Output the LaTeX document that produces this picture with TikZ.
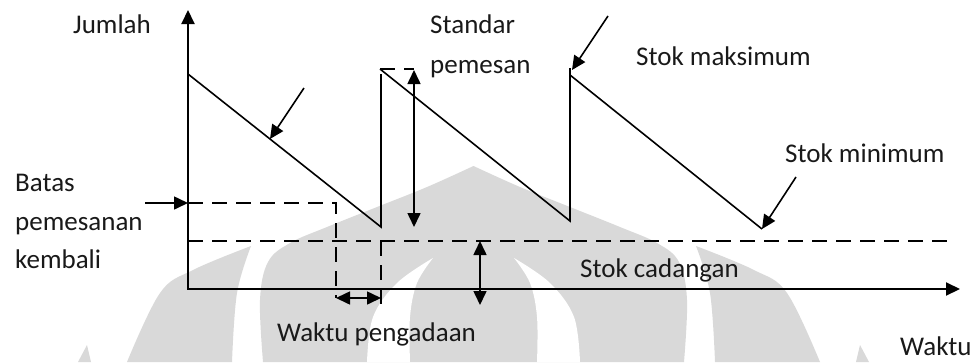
\documentclass[tikz,border=0pt]{standalone}
\usepackage{fontspec}
\setmainfont{Carlito}
\usetikzlibrary{arrows.meta}
\begin{document}
\begin{tikzpicture}[x=1pt,y=-1pt,
  font=\fontsize{27}{32}\selectfont,
  tip/.tip={Triangle[length=14pt,width=13pt]},
  axis/.style={line width=2pt,{Triangle[length=14pt,width=13pt]}-{Triangle[length=14pt,width=13pt]}},
  saw/.style={line width=1.6pt},
  guide/.style={line width=1.6pt,dash pattern=on 15pt off 9pt},
  pointer/.style={line width=1.6pt,-tip},
  span/.style={line width=1.6pt,tip-tip},
  lbl/.style={anchor=base west,inner sep=0pt,text=black!90},
  wm/.style={fill=black!15,draw=none}]
\useasboundingbox (0,0) rectangle (974,362);
\clip (0,0) rectangle (974,362);

% background emblem
\fill[wm] plot[smooth,tension=0.6] coordinates {(263,362) (260,300) (268,262) (290,243) (327,227) (377,207) (427,187) (473.5,166)}
  -- plot[smooth,tension=0.6] coordinates {(473.5,166) (520,187) (570,207) (620,227) (657,243) (679,262) (687,300) (684,362)} -- cycle;
\fill[white] plot[smooth,tension=0.6] coordinates {(433,258) (397,283) (373,317) (367,362)}
  -- plot[smooth,tension=0.6] coordinates {(410,362) (410,317) (417,283) (433,258)} -- cycle;
\fill[white] plot[smooth,tension=0.6] coordinates {(514,258) (550,283) (574,317) (580,362)}
  -- plot[smooth,tension=0.6] coordinates {(537,362) (537,317) (530,283) (514,258)} -- cycle;
\fill[wm] plot[smooth,tension=0.6] coordinates {(251,246) (193,270) (160,293) (127,362)}
  -- plot[smooth,tension=0.6] coordinates {(232,362) (237,293) (251,246)} -- cycle;
\fill[wm] plot[smooth,tension=0.6] coordinates {(696,246) (754,270) (787,293) (820,362)}
  -- plot[smooth,tension=0.6] coordinates {(715,362) (710,293) (696,246)} -- cycle;
\fill[wm] (78,362) -- (87,345) -- (91,362) -- cycle;
\fill[wm] (856,362) -- (860,345) -- (869,362) -- cycle;

% key points
\coordinate (O) at (188,289);
\coordinate (ytop) at (188,10);
\coordinate (xend) at (960,289);
\coordinate (s1) at (188,74);
\coordinate (b1) at (381,227);
\coordinate (v1) at (381,74);
\coordinate (t2) at (380,69);
\coordinate (b2) at (570,221);
\coordinate (v2) at (570,68);
\coordinate (t3) at (570,75);
\coordinate (b3) at (762,229);
\coordinate (rA) at (188,203);
\coordinate (rB) at (336,203);
\coordinate (rC) at (336,298);
\coordinate (ssA) at (188,241);
\coordinate (ssB) at (947,241);
\coordinate (lA) at (381,241);
\coordinate (lB) at (381,307);
\coordinate (lt1) at (336,298);
\coordinate (lt2) at (381,298);
\coordinate (qT) at (414,69);
\coordinate (qA) at (414,70);
\coordinate (qB) at (414,227);
\coordinate (cA) at (480,241);
\coordinate (cB) at (480,305);
\coordinate (p1s) at (304,88);
\coordinate (p1e) at (270,139);
\coordinate (p2s) at (608,16);
\coordinate (p2e) at (572,70);
\coordinate (p3s) at (796,177);
\coordinate (p3e) at (762,229);
\coordinate (p4s) at (145,203);

% axes
\draw[axis] (ytop) -- (O) -- (xend);

% stock level
\draw[saw] (s1) -- (b1) -- (v1);
\draw[saw] (t2) -- (b2) -- (v2);
\draw[saw] (t3) -- (b3);

% guide lines
\draw[guide] (rA) -- (rB) -- (rC);
\draw[guide] (ssA) -- (ssB);
\draw[guide] (lA) -- (lB);
\draw[guide] (t2) -- (qT);

% arrows
\draw[pointer] (p1s) -- (p1e);
\draw[pointer] (p2s) -- (p2e);
\draw[pointer] (p3s) -- (p3e);
\draw[pointer] (p4s) -- (rA);
\draw[span] (qA) -- (qB);
\draw[span] (lt1) -- (lt2);
\draw[span] (cA) -- (cB);

% labels
\node[lbl] (jumlah) at (73,33) {Jumlah};
\node[lbl] (standar) at (430,33) {Standar};
\node[lbl] (pemesan) at (430,73) {pemesan};
\node[lbl] (smaks) at (636,65) {Stok maksimum};
\node[lbl] (smin) at (785,162) {Stok minimum};
\node[lbl] (batas) at (15,191) {Batas};
\node[lbl] (pmsn) at (15,230) {pemesanan};
\node[lbl] (kmbl) at (15,268) {kembali};
\node[lbl] (scad) at (580,277) {Stok cadangan};
\node[lbl] (wpeng) at (277,341) {Waktu pengadaan};
\node[lbl] (waktu) at (900,355) {Waktu};
\end{tikzpicture}
\end{document}
